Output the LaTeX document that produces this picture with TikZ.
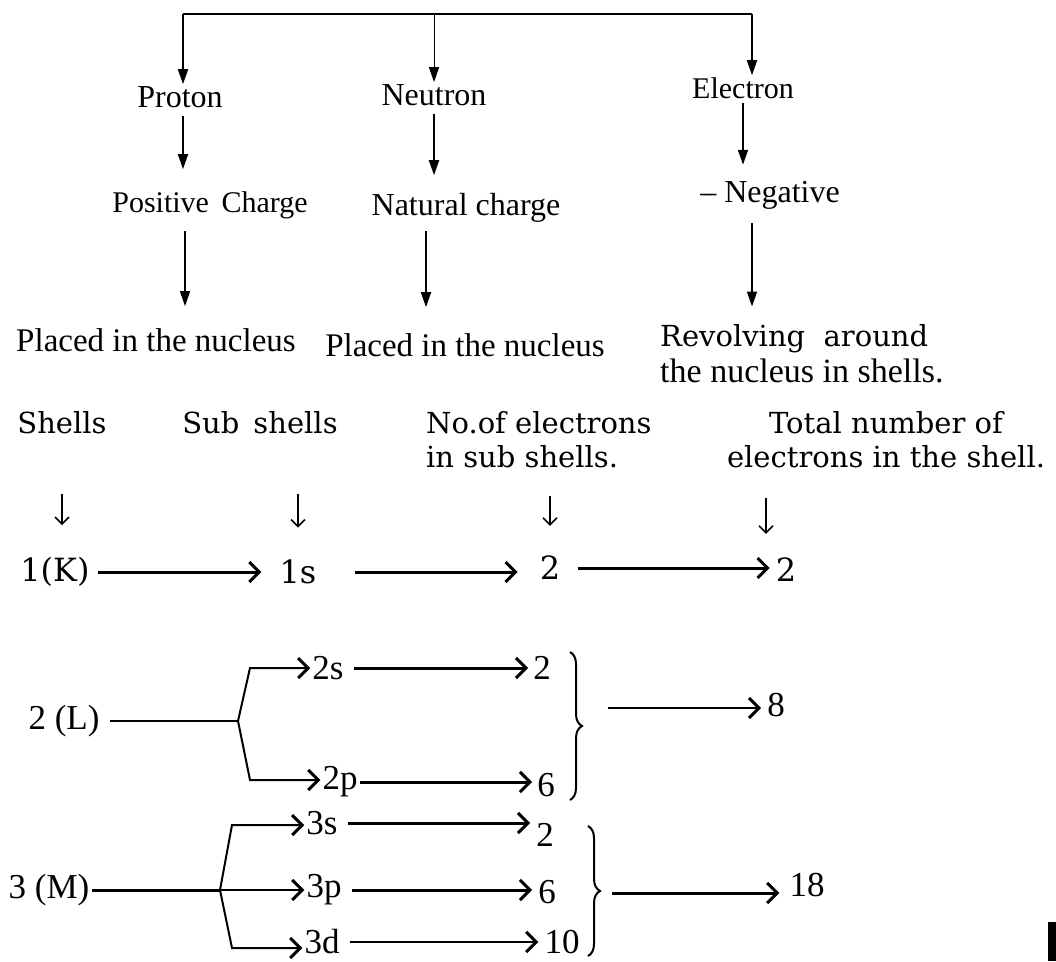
\documentclass[tikz,border=0pt]{standalone}
\usepackage{fontspec}
\setmainfont{Liberation Serif}
\newfontfamily\wideserif{DejaVu Serif}
\usetikzlibrary{arrows.meta,calc,decorations.pathreplacing}
\tikzset{
  txt/.style={inner sep=2pt, font=\fontsize{32}{36}\selectfont},
  hd/.style={inner sep=2pt, font=\wideserif\fontsize{29}{34}\selectfont},
  lvl/.style={inner sep=2pt, font=\fontsize{35}{40}\selectfont},
  rowone/.style={inner sep=2pt, font=\wideserif\fontsize{32}{36}\selectfont},
  topline/.style={line width=2.4pt},
  darr/.style={-{Triangle[length=15pt,width=10pt]}, line width=1.8pt},
  larr/.style={-{Straight Barb[length=10pt,width=20pt,line width=3pt]}, line width=3pt},
  sarr/.style={-{Straight Barb[length=7pt,width=14pt,line width=1.6pt]}, line width=1.6pt},
  brc/.style={decorate, decoration={brace, amplitude=12pt}, line width=2pt},
}
\begin{document}
\begin{tikzpicture}[x=1pt, y=-1pt]
  \useasboundingbox (0,0) rectangle (1056,961);
  % particles
  \node[txt] (proton) at (180,97) {Proton};
  \node[txt] (neutron) at (434,95) {Neutron};
  \node[txt, font=\fontsize{30}{34}\selectfont] (electron) at (743,88) {Electron};
  \coordinate (tl) at (183,14);
  \coordinate (tr) at (752,14);
  \draw[topline] (tl) -- (tr);
  \draw[darr] (tl) -- (tl |- proton.north);
  \draw[darr, line width=1pt] (neutron.north |- tl) -- (neutron.north);
  \draw[darr] (tr) -- (tr |- electron.north);
  % charges
  \node[txt, font=\fontsize{30}{34}\selectfont] (pos) at (210,205) {Positive\, Charge};
  \node[txt] (nat) at (466,208) {Natural charge};
  \node[txt] (neg) at (770,195) {-- Negative};
  \draw[darr, shorten <=6pt, shorten >=20pt] (tl |- proton.south) -- (tl |- pos.north);
  \draw[darr, shorten <=6pt, shorten >=16pt] (neutron.south) -- (neutron.south |- nat.north);
  \draw[darr, shorten <=2pt, shorten >=14pt] (electron.south) -- (electron.south |- neg.north);
  % places
  \node[txt, font=\fontsize{33}{38}\selectfont] (plc1) at (156,340) {Placed in the nucleus};
  \node[txt, font=\fontsize{33}{38}\selectfont] (plc2) at (465,345) {Placed in the nucleus};
  \node[txt, anchor=west, align=left, font=\fontsize{34}{36}\selectfont] (rev) at (658,354)
    {{\wideserif\fontsize{29}{36}\selectfont Revolving\ \ around}\\the nucleus in shells.};
  \coordinate (pa) at (185,0);
  \coordinate (na) at (426,0);
  \coordinate (ea) at (752,0);
  \draw[darr, line width=1.2pt, shorten <=10pt, shorten >=20pt] (pa |- pos.south) -- (pa |- plc1.north);
  \draw[darr, shorten <=6pt, shorten >=24pt] (na |- nat.south) -- (na |- plc2.north);
  \draw[darr, shorten <=12pt, shorten >=16pt] (ea |- neg.south) -- (ea |- rev.north);
  % headings
  \node[hd] (shells) at (62,423) {Shells};
  \node[hd] (subsh) at (260,423) {Sub\, shells};
  \node[hd, anchor=west, align=left] (noel) at (424,440) {No.of electrons\\in sub shells.};
  \node[hd, align=center] (total) at (886,440) {Total number of\\electrons in the shell.};
  % first shell
  \node[rowone] (k1) at (55,572) {1(K)};
  \node[rowone] (s1) at (298,572) {1s};
  \node[rowone] (e1) at (550,568) {2};
  \node[rowone] (t1) at (786,570) {2};
  \coordinate (dn4) at (766,0);
  \draw[sarr, shorten <=58pt, shorten >=30pt] (shells.south) -- (shells.south |- k1.north);
  \draw[sarr, shorten <=58pt, shorten >=30pt] (s1.north |- subsh.south) -- (s1.north);
  \draw[sarr, shorten <=26pt, shorten >=28pt] (e1.north |- noel.south) -- (e1.north);
  \draw[sarr, shorten <=28pt, shorten >=22pt] (dn4 |- total.south) -- (dn4 |- t1.north);
  \draw[larr, shorten <=6pt, shorten >=16pt] (k1.east) -- (k1.east -| s1.west);
  \draw[larr, shorten <=36pt, shorten >=20pt] (s1.east) -- (s1.east -| e1.west);
  \draw[larr, shorten <=16pt, shorten >=4pt] (e1.east) -- (e1.east -| t1.west);
  % second shell
  \node[lvl] (L2) at (64,721) {2 (L)};
  \node[lvl] (s2) at (328,668) {2s};
  \node[lvl] (p2) at (340,782) {2p};
  \node[lvl] (e2s) at (542,668) {2};
  \node[lvl] (e2p) at (546,785) {6};
  \node[lvl] (tot8) at (776,705) {8};
  \coordinate (br2) at (238,721);
  \coordinate (br2a) at (250,668);
  \coordinate (br2b) at (250,780);
  \draw[line width=2pt, shorten <=8pt] (L2.east) -- (br2);
  \draw[larr, line width=2pt] (br2) -- (br2a) -- (br2a -| s2.west);
  \draw[larr, line width=2pt] (br2) -- (br2b) -- (br2b -| p2.west);
  \draw[larr, shorten <=8pt, shorten >=3pt] (s2.east) -- (s2.east -| e2s.west);
  \draw[larr, shorten >=3pt] (p2.east) -- (p2.east -| e2p.west);
  \draw[brc] (570,652) -- (570,800);
  \coordinate (b2) at (590,708);
  \draw[larr, line width=2pt, shorten <=18pt, shorten >=4pt] (b2) -- (b2 -| tot8.west);
  % third shell
  \node[lvl] (M3) at (49,890) {3 (M)};
  \node[lvl] (s3) at (322,823) {3s};
  \node[lvl] (p3) at (324,890) {3p};
  \node[lvl] (d3) at (322,942) {3d};
  \node[lvl] (e3s) at (545,835) {2};
  \node[lvl] (e3p) at (547,892) {6};
  \node[lvl] (e3d) at (562,942) {10};
  \node[lvl] (tot18) at (807,885) {18};
  \coordinate (br3) at (220,890);
  \coordinate (br3a) at (232,825);
  \coordinate (br3b) at (232,948);
  \draw[line width=3pt] (M3.east) -- (br3);
  \draw[larr, line width=2pt] (br3) -- (br3a) -- (br3a -| s3.west);
  \draw[larr, line width=2pt] (br3) -- (br3 -| p3.west);
  \draw[larr, line width=2pt] (br3) -- (br3b) -- (br3b -| d3.west);
  \draw[larr, shorten <=8pt, shorten >=4pt] (s3.east) -- (s3.east -| e3s.west);
  \draw[larr, shorten <=8pt, shorten >=4pt] (p3.east) -- (p3.east -| e3p.west);
  \draw[larr, line width=2pt, shorten <=8pt, shorten >=4pt] (d3.east) -- (d3.east -| e3d.west);
  \draw[brc] (588,826) -- (588,956);
  \coordinate (b3) at (606,893);
  \draw[larr, line width=3pt, shorten <=6pt, shorten >=8pt] (b3) -- (b3 -| tot18.west);
  % edge mark
  \fill (1048,922) rectangle (1056,961);
\end{tikzpicture}
\end{document}
